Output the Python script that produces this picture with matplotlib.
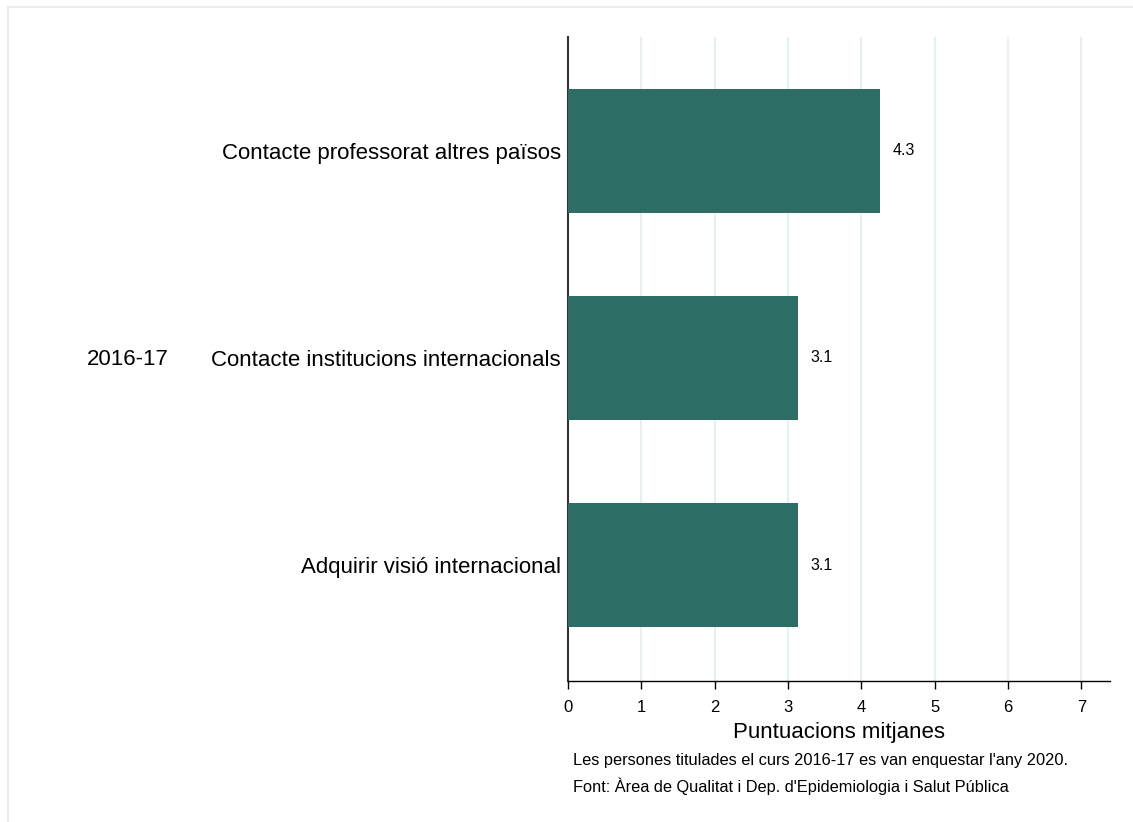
import matplotlib
matplotlib.use("Agg")
import matplotlib.pyplot as plt
from matplotlib.patches import Rectangle

plt.rcParams['font.family'] = ['Liberation Sans', 'DejaVu Sans']

categories = ["Contacte professorat altres països",
              "Contacte institucions internacionals",
              "Adquirir visió internacional"]
values = [4.25, 3.13, 3.13]
value_labels = ["4.3", "3.1", "3.1"]
group_label = "2016-17"
xticks = [0, 1, 2, 3, 4, 5, 6, 7]
xlabel = "Puntuacions mitjanes"
note1 = "Les persones titulades el curs 2016-17 es van enquestar l'any 2020."
note2 = "Font: Àrea de Qualitat i Dep. d'Epidemiologia i Salut Pública"

W, H = 1133, 822
fig = plt.figure(figsize=(W / 100, H / 100), dpi=100)
fig.patch.set_facecolor('white')

# outer light border (cropped at right/bottom)
fig.patches.append(Rectangle((8 / W, -0.1), 1.2, 1.1 - 7 / H, transform=fig.transFigure,
                             fill=False, edgecolor='#ececec', linewidth=1.5))

left, right, top, bottom = 568, 1110, 37, 681
ax = fig.add_axes([left / W, 1 - bottom / H, (right - left) / W, (bottom - top) / H])

pos = list(range(len(categories)))
ax.barh(pos, values, height=0.6, color='#2e6d65', zorder=3)
for p, v, lab in zip(pos, values, value_labels):
    ax.text(v + 0.17, p, lab, va='center', ha='left', fontsize=11.5, color='black')

ax.set_xlim(0, 7.39)
ax.set_ylim(2.56, -0.55)
ax.set_xticks(xticks)
ax.set_xticklabels([str(t) for t in xticks], fontsize=12)
ax.set_yticks(pos)
ax.set_yticklabels(categories, fontsize=16)
ax.tick_params(axis='y', length=0, pad=5)
ax.tick_params(axis='x', length=6, width=1, color='black', pad=8)
ax.xaxis.grid(True, color='#e6eff2', linewidth=1.5, zorder=0)
ax.set_axisbelow(True)
for s in ['top', 'right']:
    ax.spines[s].set_visible(False)
ax.spines['left'].set_color('#333333')
ax.spines['left'].set_linewidth(1.5)
ax.spines['bottom'].set_linewidth(1)
ax.set_xlabel(xlabel, fontsize=16, labelpad=5)

fig.text(128 / W, 1 - 359 / H, group_label, fontsize=16, ha='center', va='center')
fig.text(573 / W, 1 - 760 / H, note1, fontsize=11.8, ha='left', va='center')
fig.text(573 / W, 1 - 786 / H, note2, fontsize=11.8, ha='left', va='center')

fig.savefig("out.png", dpi=100, facecolor='white')
